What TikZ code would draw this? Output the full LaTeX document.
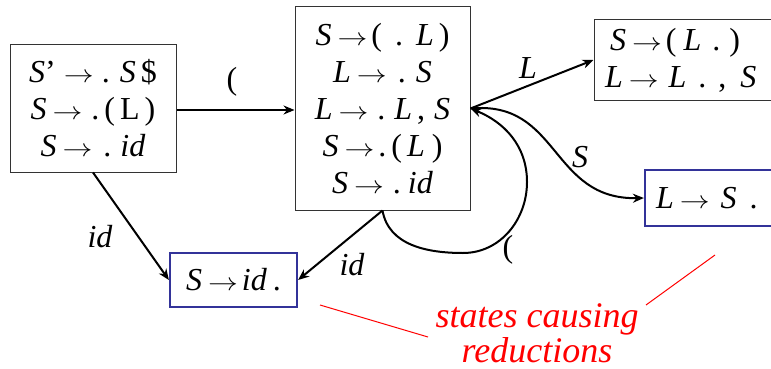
\documentclass[tikz,border=0pt]{standalone}
\usepackage{fontspec}
\setmainfont{Liberation Serif}
\usetikzlibrary{arrows.meta,positioning}

\definecolor{redblue}{HTML}{333399}
\newcommand{\sy}[1]{\textit{#1}}
\newcommand{\ra}{\hspace{6pt}\scalebox{1.2}[1]{$\rightarrow$}\hspace{4pt}}
\newcommand{\hs}[1]{\hspace{#1pt}}

\tikzset{
  state/.style={draw=black!80,line width=1pt,align=center,inner sep=0pt,
    font=\fontsize{32}{37}\selectfont},
  redstate/.style={state,draw=redblue,line width=2.2pt},
  edge/.style={line width=2pt,-{Stealth[length=11pt,width=9pt]}},
  lab/.style={font=\fontsize{32}{36}\selectfont},
}

\begin{document}
\begin{tikzpicture}[x=1pt,y=1pt]
\useasboundingbox(0,0)rectangle(771,-369);
\clip(0,0)rectangle(771,-369);

%状態
\node[state,minimum width=166pt,minimum height=127pt](s0)at(93,-108.5)
  {\sy{S}’\hs{2}\ra\hs{4}.\hs{10}\sy{S}\hs{5}\$\\
   \sy{S}\ra\hs{5}.\hs{5}(\hs{5}L\hs{5})\\
   \sy{S}\ra\hs{7}.\hs{9}\sy{id}};
\node[state,minimum width=175pt,minimum height=203pt](s1)at(382.5,-108.5)
  {\sy{S}\ra(\hs{13}.\hs{13}\sy{L}\hs{5})\\
   \sy{L}\ra\hs{7}.\hs{10}\sy{S}\\
   \sy{L}\ra\hs{5}.\hs{9}\sy{L}\hs{5},\hs{9}\sy{S}\\
   \sy{S}\ra.\hs{5}(\hs{5}\sy{L}\hs{7})\\
   \sy{S}\ra\hs{5}.\hs{7}\sy{id}};
\node[state,minimum width=200pt,minimum height=80pt,text width=186pt,align=left](s2)at(694,-60)
  {\hs{9}\sy{S}\ra(\hs{7}\sy{L}\hs{11}.\hs{9})\\
   \hs{4}\sy{L}\ra\hs{6}\sy{L}\hs{12}.\hs{12},\hs{14}\sy{S}};
\node[redstate,minimum width=160pt,minimum height=56pt,text width=148pt,align=left](s3)at(725,-198)
  {\hs{5}\sy{L}\ra\hs{7}\sy{S}\hs{13}.};
\node[redstate,minimum width=127pt,minimum height=54pt](s4)at(233.5,-280)
  {\sy{S}\ra\sy{id}\hs{6}.};

%遷移
\draw[edge](s0.east|-0,-110)to(s1.west|-0,-110);
\draw[edge](s0.south)to(s4.west);
\draw[edge](s1.south)to(s4.east);
\draw[edge](s1.east)to(s2.west);
\draw[edge](s1.east)..controls(560,-100)and(550,-200)..(s3.west);
\draw[edge](s1.south)to[out=-80,in=180](463,-253)to[out=0,in=-90](527,-182)
  to[out=90,in=-22](s1.east);

%ラベル
\node[lab](l0)at(232,-82){(};
\node[lab](l1)at(100,-237){\sy{id}};
\node[lab](l2)at(352,-265){\sy{id}};
\node[lab](l3)at(528,-68){\sy{L}};
\node[lab](l4)at(580,-157){\sy{S}};
\node[lab](l5)at(508,-250){(};

%注記
\node[text=red,align=center,font=\fontsize{36}{35}\selectfont\itshape](note)at(537,-333)
  {states causing\\ reductions};
\coordinate(n1)at(320,-305);
\coordinate(n2)at(428,-337);
\coordinate(n3)at(715,-255);
\coordinate(n4)at(646,-305);
\draw[red,line width=1pt](n1)to(n2);
\draw[red,line width=1pt](n3)to(n4);
\end{tikzpicture}
\end{document}
